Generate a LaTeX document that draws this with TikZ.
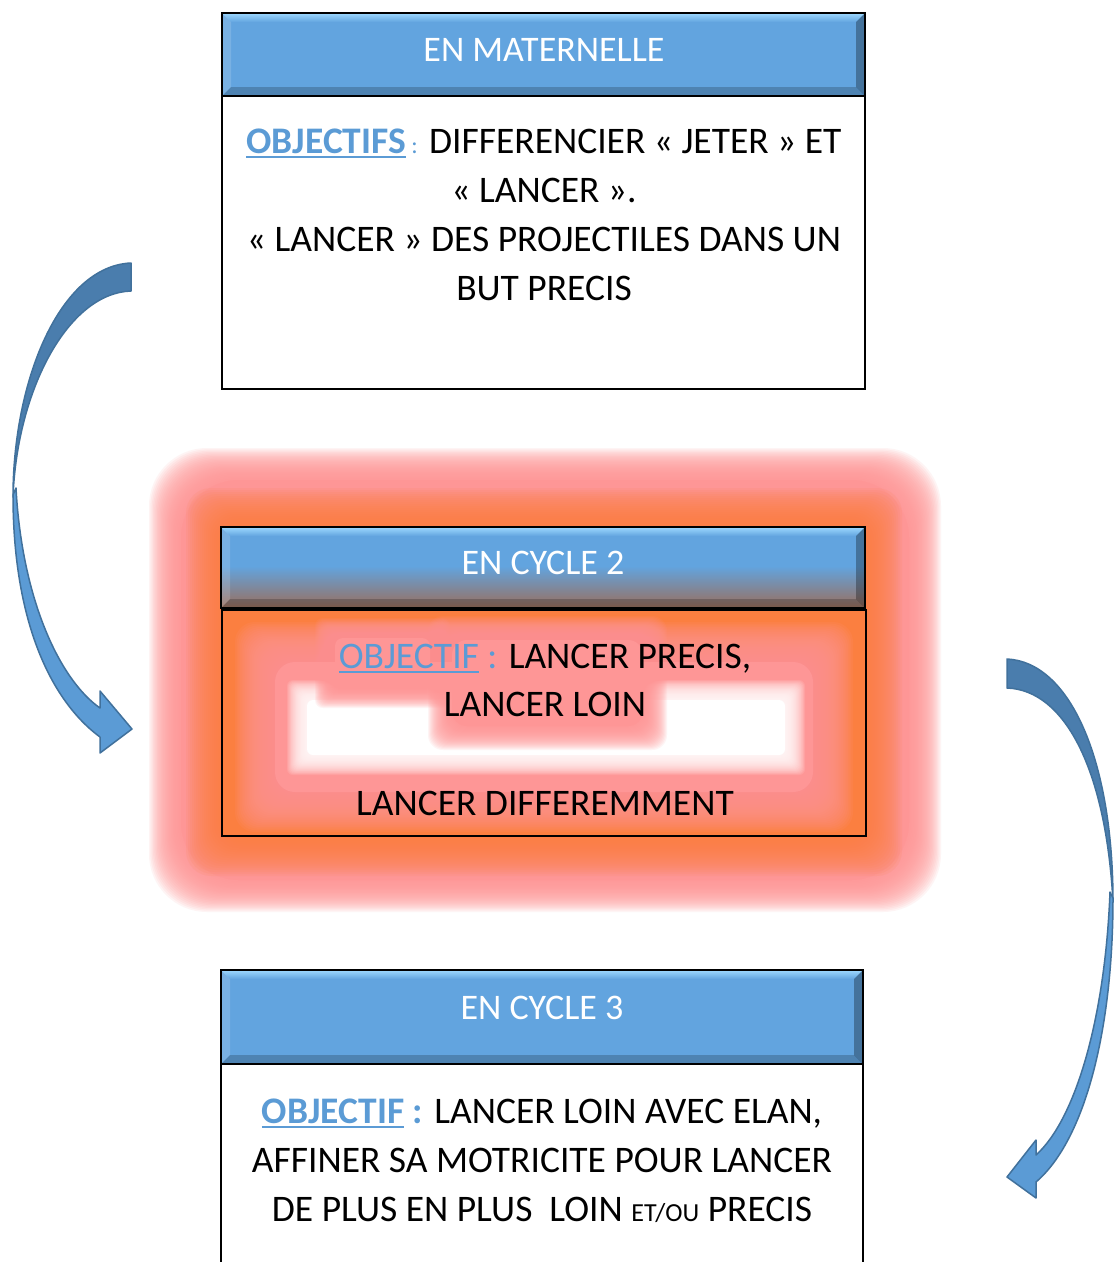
\documentclass[tikz,border=0pt]{standalone}
\usepackage{fontspec}
\setmainfont{Carlito}
\definecolor{hblue}{HTML}{62A4DF}
\definecolor{hlight}{HTML}{9ED9FF}
\definecolor{hbrown}{HTML}{9A6E5C}
\definecolor{objblue}{HTML}{5B9BD5}
\definecolor{glowpink}{HTML}{FE9696}
\definecolor{gloworange}{HTML}{FB7F40}
\definecolor{arrdark}{HTML}{4A7DAD}
\definecolor{arrlight}{HTML}{5B9BD5}
\definecolor{arrline}{HTML}{41719C}
\newcommand\bodyfont{\fontsize{37.5}{49}\selectfont}
\newcommand\hdrfont{\fontsize{36}{44}\selectfont}
\newsavebox\ulsave
\newcommand\ulb[1]{\sbox\ulsave{\textcolor{objblue}{#1}}\rlap{\textcolor{objblue}{\rule[-5pt]{\wd\ulsave}{2.5pt}}}\usebox\ulsave}
\newcommand\softfill[7]{%
  \foreach \k in {0,...,24}{%
    \fill[#1,opacity=0.1,rounded corners=#6]
      ({#2-#7+\k*#7/12},{#3-#7+\k*#7/12}) rectangle ({#4+#7-\k*#7/12},{#5+#7-\k*#7/12});
  }%
  \fill[#1,rounded corners=#6] ({#2+#7},{#3+#7}) rectangle ({#4-#7},{#5-#7});
}
\newcommand\bevelhdr[4]{%
  \shade[top color=hlight, bottom color=hblue] (#1,#2) -- (#3,#2) -- ({#3-9},{#2+9}) -- ({#1+9},{#2+9}) -- cycle;
  \fill[white,opacity=0.15] (#1,#2) -- ({#1+9},{#2+9}) -- ({#1+9},{#4-9}) -- (#1,#4) -- cycle;
  \fill[black,opacity=0.2] (#1,#4) -- ({#1+9},{#4-9}) -- ({#3-9},{#4-9}) -- (#3,#4) -- cycle;
  \fill[black,opacity=0.3] (#3,#2) -- (#3,#4) -- ({#3-9},{#4-9}) -- ({#3-9},{#2+9}) -- cycle;
  \draw[line width=2.5] (#1,#2) rectangle (#3,#4);
}
\tikzset{
  txt/.style={font=\bodyfont, anchor=base, inner sep=0pt, text=black},
  htxt/.style={font=\hdrfont, anchor=base, inner sep=0pt, text=white},
  bodybox/.style={draw=black, line width=2.5},
  arrowshape/.style={draw=arrline, line width=1.5, line join=round}
}
\begin{document}
\begin{tikzpicture}[x=1pt,y=-1pt]
\useasboundingbox (0,0) rectangle (1114,1262);
\clip (0,0) rectangle (1114,1262);
\fill[white] (0,0) rectangle (1114,1262);

% ---------- Box 1 ----------
\fill[hblue] (222,13) rectangle (865,96);
\bevelhdr{222}{13}{865}{96}
\node[htxt] (h1) at (544,61) {EN MATERNELLE};
\fill[white] (222,96) rectangle (865,389);
\draw[bodybox] (222,96) rectangle (865,389);
\node[txt] (t1a) at (544,153) {\ulb{\bfseries OBJECTIFS}\textcolor{objblue}{\fontsize{24}{24}\selectfont\ :} DIFFERENCIER «~JETER~» ET};
\node[txt] (t1b) at (544,202) {«~LANCER~».};
\node[txt] (t1c) at (544,251) {«~LANCER~» DES PROJECTILES DANS UN};
\node[txt] (t1d) at (544,300) {BUT PRECIS};

% ---------- Box 2 (glow) ----------
\softfill{glowpink}{165}{464}{925}{896}{58}{16}
\softfill{gloworange}{210}{512}{878}{852}{25}{24}
\fill[hblue] (221,527) rectangle (865,608);
\shade[top color=hblue, bottom color=hbrown] (221,566) rectangle (865,608);
\bevelhdr{221}{527}{865}{608}
\node[htxt] (h2) at (543,574) {EN CYCLE 2};
\fill[gloworange] (222,610) rectangle (866,836);
\softfill{glowpink}{255}{642}{833}{812}{20}{20}
\softfill{white}{297}{690}{795}{765}{6}{10}
\softfill{glowpink}{440}{628}{655}{738}{15}{12}
\softfill{glowpink}{325}{628}{440}{698}{8}{10}
\draw[bodybox] (222,610) rectangle (866,836);
\node[txt] (t2a) at (545,668) {\ulb{OBJECTIF}\textcolor{objblue}{\ :} LANCER PRECIS,};
\node[txt] (t2b) at (545,716) {LANCER LOIN};
\node[txt] (t2c) at (545,815) {LANCER DIFFEREMMENT};

% ---------- Box 3 ----------
\fill[hblue] (221,970) rectangle (863,1064);
\bevelhdr{221}{970}{863}{1064}
\node[htxt] (h3) at (542,1019) {EN CYCLE 3};
\fill[white] (221,1064) rectangle (863,1280);
\draw[bodybox] (221,1064) rectangle (863,1280);
\node[txt] (t3a) at (542,1123) {\ulb{\bfseries OBJECTIF}\textcolor{objblue}{\bfseries\ :} LANCER LOIN AVEC ELAN,};
\node[txt] (t3b) at (542,1172) {AFFINER SA MOTRICITE POUR LANCER};
\node[txt] (t3c) at (542,1221) {DE PLUS EN PLUS\ \ LOIN {\fontsize{26}{26}\selectfont ET/OU} PRECIS};

% ---------- Left curved arrow ----------
\fill[arrowshape, fill=arrdark] (131,263) .. controls (60,266) and (13,380) .. (13,497)
   .. controls (17,390) and (68,293) .. (131,291) -- cycle;
\fill[arrowshape, fill=arrlight] (13,495) .. controls (13,620) and (50,700) .. (100,737)
   -- (100,753) -- (132,729) -- (100,691) -- (100,708)
   .. controls (60,680) and (22,600) .. (16,488) -- cycle;

% ---------- Right curved arrow ----------
\fill[arrowshape, fill=arrdark] (1007,659) .. controls (1070,662) and (1113,760) .. (1113,902)
   .. controls (1106,770) and (1065,690) .. (1007,688) -- cycle;
\fill[arrowshape, fill=arrlight] (1113,898) .. controls (1113,1030) and (1085,1140) .. (1036,1182)
   -- (1036,1198) -- (1007,1177) -- (1036,1140) -- (1036,1155)
   .. controls (1075,1120) and (1105,1020) .. (1110,892) -- cycle;
\end{tikzpicture}
\end{document}
